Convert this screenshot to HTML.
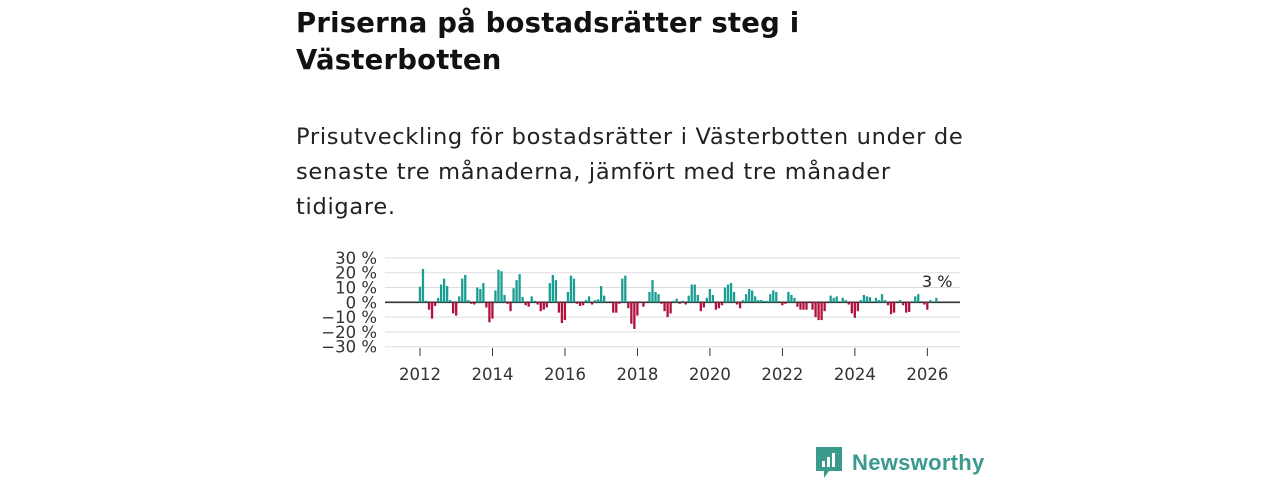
<!DOCTYPE html>
<html><head><meta charset="utf-8">
<style>
body{margin:0;width:1280px;height:480px;background:#fff;font-family:"DejaVu Sans","Liberation Sans",sans-serif;overflow:hidden;position:relative}
h1{position:absolute;left:296px;top:5px;margin:0;font-size:27.5px;line-height:37px;font-weight:bold;color:#111;white-space:nowrap;letter-spacing:0.2px}
p.sub{position:absolute;left:296px;top:120px;margin:0;font-size:22.5px;line-height:35px;color:#222;white-space:nowrap;letter-spacing:0.7px}
svg{position:absolute;left:0;top:0}
</style></head><body>
<h1>Priserna på bostadsrätter steg i<br>Västerbotten</h1>
<p class="sub">Prisutveckling för bostadsrätter i Västerbotten under de<br>senaste tre månaderna, jämfört med tre månader<br>tidigare.</p>
<svg id="chart" width="1280" height="480"></svg>
<div style="position:absolute;left:815px;top:446px;display:flex;align-items:center">
<svg width="28" height="33" style="position:static"><path d="M1 1h26v24H14l-5 7v-7H1z" fill="#3a9a8e"/><rect x="7" y="15" width="3" height="6" fill="#fff"/><rect x="12" y="11" width="3" height="10" fill="#fff"/><rect x="17" y="7" width="3" height="14" fill="#fff"/></svg>
<span style="margin-left:9px;font-size:22px;font-weight:bold;color:#3a9a8e;font-family:'Liberation Sans',sans-serif;letter-spacing:0.3px">Newsworthy</span></div>
<script>
const startYear=2012;
const values=[10.5,22.5,1,-5,-11,-2.5,3,12,16,11,1.5,-7.5,-9,4,16,18.5,1.5,-1,-1.5,10,9,13,-3.5,-13.5,-11,8,22,21,5,-1,-6,9.5,15,19,3.5,-2,-3,4,1,-1.5,-6,-5,-3.5,13,18.5,15,-7,-14,-12,7,18,16,
-1,-2.5,-2,1.5,4,-1.5,1.5,2,11,4.5,0,0,-7,-7,-1,16,18,-4,-14.5,-18,-9,0,-3,0,7,15,7,5.5,-1,-6,-10,-7.5,1,2.5,-1,1,-1.5,4.5,12,12,5,-6,-3.5,3,9,5,-5,-4,-2,10,12,13,7,-1.5,-4,1.5,5.5,9,8,4,1.5,1.5,
1,1,5.5,8,7,0,-2,-1,7,5,3,-3,-5,-5,-5,0,-5,-10,-12,-12,-6,0,4.5,3,4,0,3,1.5,-1.5,-7.5,-10.5,-6,1.5,5,4,3.5,0,3,1.5,5.5,1.5,-2,-8,-7,0,1.5,-2,-7,-6.5,0,4,5.5,0,-1.5,-5,1.5,0,3];
const yTicks=[30,20,10,0,-10,-20,-30];
const xTickYears=[2012,2014,2016,2018,2020,2022,2024,2026];
const lastLabel="3 %";
const NS="http://www.w3.org/2000/svg";
const svg=document.getElementById('chart');
const x=i=>420+3.02*i;
const y=v=>302.3-v*1.48;
function mk(t,a){const e=document.createElementNS(NS,t);for(const k in a)e.setAttribute(k,a[k]);svg.appendChild(e);return e;}
yTicks.forEach(v=>{
 const g=mk('line',{x1:385,x2:960,y1:y(v),y2:y(v),stroke:v===0?'#333':'#ddd','stroke-width':v===0?1.6:1});
 
 
 const t=mk('text',{x:377,y:y(v)+6,'text-anchor':'end','font-size':16.5,fill:'#333'});
 t.textContent=(v<0?'\u2212'+(-v):v)+' %';
 
 
});
values.forEach((v,i)=>{
 const r=mk('rect',{x:x(i)-1.2,width:2.3,y:Math.min(y(v),y(0)),height:Math.abs(y(v)-y(0)),fill:v>=0?'#1a9e94':'#b0113f'});
 
 
});
xTickYears.forEach(yr=>{
 const xi=x((yr-startYear)*12);
 const l=mk('line',{x1:xi,x2:xi,y1:348,y2:356,stroke:'#333','stroke-width':1});
 
 
 const t=mk('text',{x:xi,y:380,'text-anchor':'middle','font-size':16.5,fill:'#333'});
 t.textContent=yr;
 
 
});
const last=values.length-1;
const lbl=mk('text',{x:x(last)+16,y:287,'text-anchor':'end','font-size':16,fill:'#222'});
lbl.textContent=lastLabel;


</script>
</body></html>
